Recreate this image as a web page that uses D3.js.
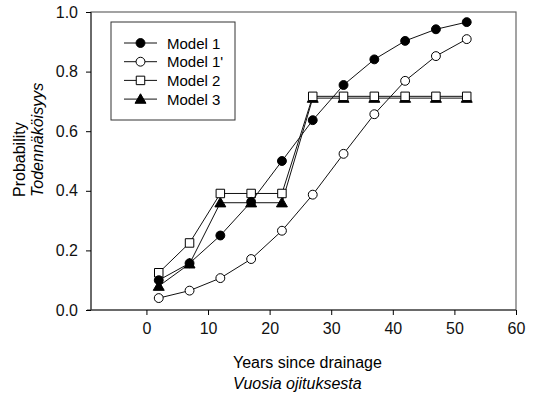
<!DOCTYPE html>
<html>
<head>
<meta charset="utf-8">
<script src="https://cdn.jsdelivr.net/npm/d3@7"></script>
<style>
body { margin: 0; background: #fff; }
text { font-family: "Liberation Sans", Arial, sans-serif; }
</style>
</head>
<body>
<script>
// data
var years = [2, 7, 12, 17, 22, 27, 32, 37, 42, 47, 52];
var model1 = [0.10, 0.157, 0.25, 0.363, 0.50, 0.637, 0.755, 0.841, 0.903, 0.942, 0.966];
var model1b = [0.04, 0.065, 0.107, 0.171, 0.266, 0.387, 0.524, 0.657, 0.769, 0.852, 0.909];
var model2 = [0.125, 0.225, 0.391, 0.391, 0.391, 0.717, 0.717, 0.717, 0.717, 0.717, 0.717];
var model3 = [0.08, 0.155, 0.36, 0.36, 0.36, 0.711, 0.711, 0.711, 0.711, 0.711, 0.711];
var seriesNames = ["Model 1", "Model 1'", "Model 2", "Model 3"];
var xTicks = [0, 10, 20, 30, 40, 50, 60];
var yTicks = [0, 0.2, 0.4, 0.6, 0.8, 1.0];

var margin = {top: 12, right: 18, bottom: 85, left: 91},
    width = 534 - margin.left - margin.right,
    height = 395 - margin.top - margin.bottom;

var x = d3.scaleLinear().domain([-9, 60]).range([0, width]);
var y = d3.scaleLinear().domain([0, 1]).range([height, 0]);

var svg = d3.select("body").append("svg")
    .attr("width", 534)
    .attr("height", 395)
  .append("g")
    .attr("transform", "translate(" + margin.left + "," + margin.top + ")");

// frame
svg.append("rect")
    .attr("width", width).attr("height", height)
    .attr("fill", "none").attr("stroke", "#666").attr("stroke-width", 1.2);

var xAxis = svg.append("g")
    .attr("transform", "translate(0," + height + ")")
    .call(d3.axisBottom(x).tickValues(xTicks).tickSize(5).tickPadding(8).tickFormat(d3.format("d")));
xAxis.select(".domain").attr("stroke", "#333").attr("d", "M-4,0H" + width);
xAxis.selectAll("text").style("font-size", "16px").attr("fill", "#111");

var yAxis = svg.append("g")
    .call(d3.axisLeft(y).tickValues(yTicks).tickSize(5).tickPadding(8).tickFormat(d3.format(".1f")));
yAxis.select(".domain").attr("stroke", "#333").attr("d", "M0,0V" + height);
yAxis.selectAll("text").style("font-size", "16px").attr("fill", "#111");

// axis titles
svg.append("text")
    .attr("transform", "translate(-66,185) rotate(-90)")
    .attr("text-anchor", "start").style("font-size", "16px")
    .text("Probability");
svg.append("text")
    .attr("transform", "translate(-48,185) rotate(-90)")
    .attr("text-anchor", "start").style("font-size", "16px").style("font-style", "italic")
    .text("Todennäköisyys");

svg.append("text")
    .attr("x", 142).attr("y", height + 58)
    .style("font-size", "16px")
    .text("Years since drainage");
svg.append("text")
    .attr("x", 142).attr("y", height + 79)
    .style("font-size", "16px").style("font-style", "italic")
    .text("Vuosia ojituksesta");

var line = d3.line()
    .x(function(d) { return x(d[0]); })
    .y(function(d) { return y(d[1]); });

var series = [
  {name: seriesNames[0], values: model1, shape: "circle", fill: "#000"},
  {name: seriesNames[1], values: model1b, shape: "circle", fill: "#fff"},
  {name: seriesNames[2], values: model2, shape: "square", fill: "#fff"},
  {name: seriesNames[3], values: model3, shape: "triangle", fill: "#000"}
];

function marker(sel, s) {
  var sym = s.shape == "circle" ? d3.symbolCircle : s.shape == "square" ? d3.symbolSquare : d3.symbolTriangle;
  var size = s.shape == "circle" ? 62 : s.shape == "square" ? 72 : 52;
  sel.attr("d", d3.symbol().type(sym).size(size)())
     .attr("fill", s.fill).attr("stroke", "#000").attr("stroke-width", 1);
}

// draw series in reverse so Model 1 sits on top
series.slice().reverse().forEach(function(s) {
  var pts = years.map(function(yr, i) { return [yr, s.values[i]]; });
  svg.append("path")
      .datum(pts)
      .attr("fill", "none").attr("stroke", "#111").attr("stroke-width", 1)
      .attr("d", line);
  svg.selectAll(null)
      .data(pts)
      .enter().append("path")
      .attr("transform", function(d) {
        var dy = s.shape == "triangle" ? 1 : 0;
        return "translate(" + x(d[0]) + "," + (y(d[1]) + dy) + ")";
      })
      .call(marker, s);
});

// legend
var legend = svg.append("g").attr("transform", "translate(20,10)");
legend.append("rect")
    .attr("width", 124).attr("height", 98)
    .attr("fill", "#fff").attr("stroke", "#333").attr("stroke-width", 1);
series.forEach(function(s, i) {
  var g = legend.append("g").attr("transform", "translate(0," + (21 + i * 18.7) + ")");
  g.append("line").attr("x1", 13).attr("x2", 46).attr("stroke", "#111");
  g.append("path").attr("transform", "translate(29.5," + (s.shape == "triangle" ? 1 : 0) + ")").call(marker, s);
  g.append("text").attr("x", 56).attr("y", 5.5).style("font-size", "15px").text(s.name);
});
</script>
</body>
</html>
